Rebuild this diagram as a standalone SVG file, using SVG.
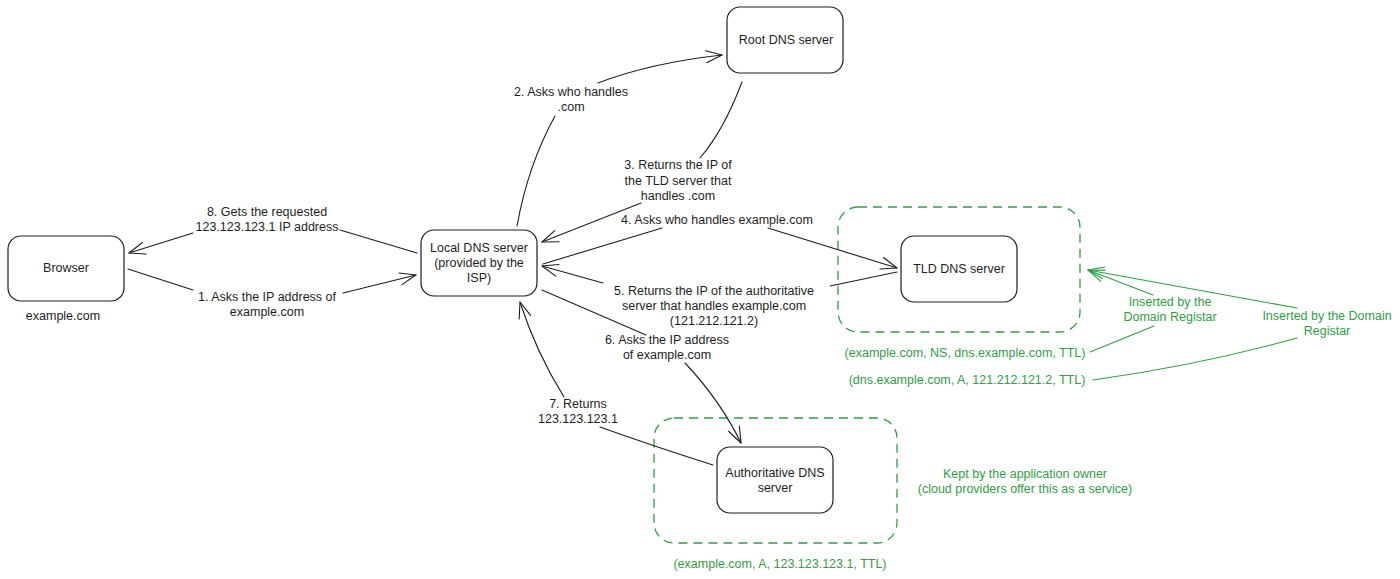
<svg xmlns="http://www.w3.org/2000/svg" width="1400" height="579" viewBox="0 0 1400 579">
<style>
.node{fill:#fff;stroke:#1e1e1e;stroke-width:1.2}
.grp{fill:none;stroke:#2f9e44;stroke-width:1.3;stroke-dasharray:9 6}
.t{font-family:"Liberation Sans",Arial,sans-serif;font-size:12.5px;fill:#1e1e1e;text-anchor:middle;dominant-baseline:central}
.g{fill:#2f9e44}
.c{fill:none;stroke:#1e1e1e;stroke-width:1.1;stroke-linecap:round}
.cg{fill:none;stroke:#2f9e44;stroke-width:1.1;stroke-linecap:round}
</style>
<defs>
<marker id="ab" markerUnits="userSpaceOnUse" viewBox="-18 -10 20 20" refX="0" refY="0" markerWidth="20" markerHeight="20" orient="auto">
<path d="M-16,-6 L0,0 L-16,6" fill="none" stroke="#1e1e1e" stroke-width="1.1" stroke-linecap="round" stroke-linejoin="round"/>
</marker>
<marker id="ag" markerUnits="userSpaceOnUse" viewBox="-18 -10 20 20" refX="0" refY="0" markerWidth="20" markerHeight="20" orient="auto">
<path d="M-16,-6 L0,0 L-16,6" fill="none" stroke="#2f9e44" stroke-width="1.1" stroke-linecap="round" stroke-linejoin="round"/>
</marker>
</defs>
<rect width="1400" height="579" fill="#fff"/>

<g id="tld-group"><rect class="grp" x="838" y="207" width="242" height="125" rx="20"/></g>
<g id="auth-group"><rect class="grp" x="654" y="418" width="243" height="125" rx="20"/></g>

<g id="connectors">
<path class="c" d="M128,269 L193,290 M343,293 L416,275" marker-end="url(#ab)"/>
<path class="c" d="M417,253 L340,230 M193,233 L129,253" marker-end="url(#ab)"/>
<path class="c" d="M517,226 Q528,165 555,116 M598,83 Q650,63 722,55" marker-end="url(#ab)"/>
<path class="c" d="M742,82 Q724,130 700,158 M641,203 L542,242" marker-end="url(#ab)"/>
<path class="c" d="M543,264 L662,228 M768,228 L897,268" marker-end="url(#ab)"/>
<path class="c" d="M897,272 L830,286 M603,283 L542,266" marker-end="url(#ab)"/>
<path class="c" d="M542,290 L646,335 M685,363 Q720,400 741,443" marker-end="url(#ab)"/>
<path class="c" d="M713,465 Q650,445 600,427 M564,397 Q536,352 520,302" marker-end="url(#ab)"/>
<path class="cg" d="M1153,295 L1088,270" marker-end="url(#ag)"/>
<path class="cg" d="M1297,308 L1088,270" marker-end="url(#ag)"/>
<path class="cg" d="M1090,352 L1154,326"/>
<path class="cg" d="M1093,380 Q1200,365 1297,338"/>
</g>

<g id="browser">
<rect class="node" x="8" y="236" width="116" height="65" rx="13"/>
<text class="t" x="66" y="268">Browser</text>
</g>
<text class="t" x="63" y="316">example.com</text>

<g id="local-dns">
<rect class="node" x="421" y="230" width="116" height="66" rx="13"/>
<text class="t" x="479" y="248">Local DNS server</text>
<text class="t" x="479" y="263">(provided by the</text>
<text class="t" x="479" y="278">ISP)</text>
</g>

<g id="root-dns">
<rect class="node" x="727" y="7" width="116" height="66" rx="13"/>
<text class="t" x="786" y="40">Root DNS server</text>
</g>

<g id="tld-dns">
<rect class="node" x="901" y="236" width="116" height="66" rx="13"/>
<text class="t" x="959" y="269">TLD DNS server</text>
</g>

<g id="auth-dns">
<rect class="node" x="717" y="447" width="116" height="66" rx="13"/>
<text class="t" x="775" y="473">Authoritative DNS</text>
<text class="t" x="775" y="488">server</text>
</g>

<g id="labels">
<text class="t" x="571" y="92">2. Asks who handles</text>
<text class="t" x="571" y="107">.com</text>
<text class="t" x="678" y="165">3. Returns the IP of</text>
<text class="t" x="678" y="181">the TLD server that</text>
<text class="t" x="678" y="196">handles .com</text>
<text class="t" x="267" y="212">8. Gets the requested</text>
<text class="t" x="267" y="227">123.123.123.1 IP address</text>
<text class="t" x="717" y="220">4. Asks who handles example.com</text>
<text class="t" x="714" y="291">5. Returns the IP of the authoritative</text>
<text class="t" x="714" y="306">server that handles example.com</text>
<text class="t" x="714" y="321">(121.212.121.2)</text>
<text class="t" x="267" y="297">1. Asks the IP address of</text>
<text class="t" x="267" y="312">example.com</text>
<text class="t" x="667" y="340">6. Asks the IP address</text>
<text class="t" x="667" y="355">of example.com</text>
<text class="t" x="578" y="404">7. Returns</text>
<text class="t" x="578" y="419">123.123.123.1</text>
<text class="t g" x="1170" y="302">Inserted by the</text>
<text class="t g" x="1170" y="317">Domain Registar</text>
<text class="t g" x="1327" y="316">Inserted by the Domain</text>
<text class="t g" x="1327" y="331">Registar</text>
<text class="t g" x="965" y="353">(example.com, NS, dns.example.com, TTL)</text>
<text class="t g" x="967" y="380">(dns.example.com, A, 121.212.121.2, TTL)</text>
<text class="t g" x="1025" y="474">Kept by the application owner</text>
<text class="t g" x="1025" y="489">(cloud providers offer this as a service)</text>
<text class="t g" x="780" y="564">(example.com, A, 123.123.123.1, TTL)</text>
</g>
</svg>
